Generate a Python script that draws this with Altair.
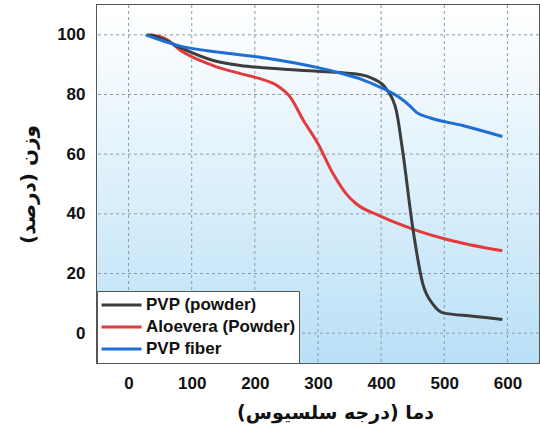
import altair as alt
import pandas as pd

# PVP (powder)
pvp_powder_x = [30, 50, 82, 134, 177, 224, 300, 366, 387, 408, 424, 434, 450, 466, 482, 498, 545, 592]
pvp_powder_y = [100, 99, 95.7, 91.4, 89.7, 88.8, 87.8, 86.7, 85.3, 81.9, 74.6, 61.2, 35.4, 16.5, 9.7, 6.8, 5.7, 4.6]

# Aloevera (Powder)
aloe_x = [35, 60, 82, 134, 177, 208, 235, 256, 277, 300, 324, 345, 361, 398, 450, 503, 592]
aloe_y = [100, 98.5, 94.8, 89.7, 87, 85.3, 83, 79.1, 71.3, 63.5, 53.4, 46.6, 43.3, 39.3, 34.9, 31.5, 27.6]

# PVP fiber
fiber_x = [27, 50, 82, 150, 224, 300, 335, 370, 398, 410, 429, 445, 456, 477, 529, 592]
fiber_y = [100, 98.3, 96.2, 94, 92, 89, 87.2, 85, 82.5, 81.3, 79, 76.3, 74, 72.2, 69.6, 65.9]

series_names = ["PVP (powder)", "Aloevera (Powder)", "PVP fiber"]
series_colors = ["#3d3d3d", "#e33b3d", "#1f6ed6"]

x_ticks = [0, 100, 200, 300, 400, 500, 600]
y_ticks = [0, 20, 40, 60, 80, 100]

rows = []
# draw order: red, black, blue (blue on top)
for name, xs, ys in [("Aloevera (Powder)", aloe_x, aloe_y),
                     ("PVP (powder)", pvp_powder_x, pvp_powder_y),
                     ("PVP fiber", fiber_x, fiber_y)]:
    for i, (a, b) in enumerate(zip(xs, ys)):
        rows.append({"series": name, "T": a, "W": b, "i": i})
df = pd.DataFrame(rows)

xscale = alt.Scale(domain=[-50, 650], nice=False)
yscale = alt.Scale(domain=[-10, 110], nice=False)

bg = alt.Chart(alt.Data(values=[{}])).mark_rect(
    fill=alt.LinearGradient(
        gradient="linear",
        stops=[alt.GradientStop(offset=0, color="#ffffff"),
               alt.GradientStop(offset=0.12, color="#f8fcfe"),
               alt.GradientStop(offset=1, color="#b9e0f7")],
        x1=0, x2=0, y1=0, y2=1),
).encode(x=alt.value(0), x2=alt.value("width"), y=alt.value(0), y2=alt.value("height"))

grid_style = dict(color="#8d9ba6", strokeDash=[3, 3], strokeWidth=1)
vgrid = alt.Chart(pd.DataFrame({"T": x_ticks})).mark_rule(**grid_style).encode(
    x=alt.X("T:Q", scale=xscale))
hgrid = alt.Chart(pd.DataFrame({"W": y_ticks})).mark_rule(**grid_style).encode(
    y=alt.Y("W:Q", scale=yscale))

lines = alt.Chart(df).mark_line(strokeWidth=3, interpolate="monotone").encode(
    x=alt.X("T:Q", scale=xscale,
            axis=alt.Axis(values=x_ticks, title="دما (درجه سلسیوس)",
                          titleX=238, titlePadding=12)),
    y=alt.Y("W:Q", scale=yscale,
            axis=alt.Axis(values=y_ticks, title="وزن (درصد)", titlePadding=18,
                          titleFontSize=20)),
    color=alt.Color("series:N",
                    scale=alt.Scale(domain=series_names, range=series_colors),
                    legend=alt.Legend(title=None, orient="none", legendX=0, legendY=286,
                                      symbolType="stroke", symbolSize=1600,
                                      symbolStrokeWidth=3, clipHeight=22,
                                      rowPadding=0, padding=3, labelOffset=3,
                                      fillColor="white", strokeColor="#555555",
                                      labelFont="Liberation Sans", labelFontSize=17,
                                      labelFontWeight="bold", labelColor="#111111",
                                      labelLimit=300)),
    order=alt.Order("i:Q"),
    detail="series:N",
)

chart = alt.layer(bg, vgrid, hgrid, lines).properties(
    width=442, height=358,
    background="white",
    autosize=alt.AutoSizeParams(type="none"),
    padding={"left": 97, "top": 5, "right": 1, "bottom": 69},
).configure_view(
    stroke="#555555", strokeWidth=2
).configure_axis(
    grid=False, domain=False, ticks=False,
    labelFont="Liberation Sans", labelFontSize=17, labelFontWeight="bold",
    labelColor="#111111", labelPadding=12,
    titleFont="DejaVu Sans", titleFontSize=19, titleFontWeight="bold",
    titleColor="#111111",
)

chart.save("out.html", embed_options={"renderer": "svg", "actions": False})
